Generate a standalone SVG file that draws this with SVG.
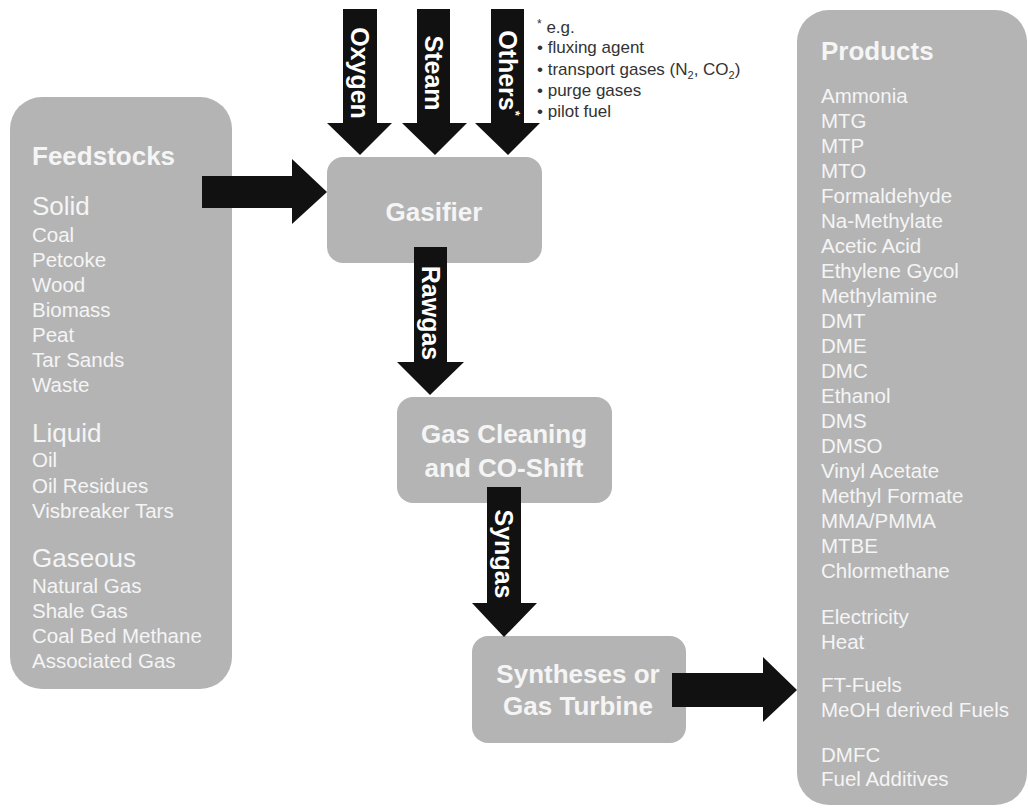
<svg xmlns="http://www.w3.org/2000/svg" width="1028" height="809" viewBox="0 0 1028 809">
<style>
.box{fill:#b4b4b4}
.arr{fill:#111111}
.title{font-family:"Liberation Sans",Arial,sans-serif;font-weight:bold;font-size:26px;fill:#f5f5f5}
.sub{font-family:"Liberation Sans",Arial,sans-serif;font-size:26px;fill:#f5f5f5}
.item{font-family:"Liberation Sans",Arial,sans-serif;font-size:20.5px;fill:#f5f5f5}
.lbl{font-family:"Liberation Sans",Arial,sans-serif;font-weight:bold;font-size:25px;fill:#ffffff}
.note{font-family:"Liberation Sans",Arial,sans-serif;font-size:17px;fill:#333333}
</style>
<rect width="1028" height="809" fill="#ffffff"/>

<g id="feedstocks">
<rect class="box" x="10" y="97" width="222" height="592" rx="32" ry="32"/>
<text class="title" x="32" y="165">Feedstocks</text>
<text class="sub" x="32" y="215">Solid</text>
<g class="item">
<text x="32" y="242">Coal</text>
<text x="32" y="267">Petcoke</text>
<text x="32" y="292">Wood</text>
<text x="32" y="317">Biomass</text>
<text x="32" y="342">Peat</text>
<text x="32" y="367">Tar Sands</text>
<text x="32" y="392">Waste</text>
</g>
<text class="sub" x="32" y="442">Liquid</text>
<g class="item">
<text x="32" y="467">Oil</text>
<text x="32" y="493">Oil Residues</text>
<text x="32" y="518">Visbreaker Tars</text>
</g>
<text class="sub" x="32" y="567">Gaseous</text>
<g class="item">
<text x="32" y="593">Natural Gas</text>
<text x="32" y="618">Shale Gas</text>
<text x="32" y="643">Coal Bed Methane</text>
<text x="32" y="668">Associated Gas</text>
</g>
</g>

<g id="products">
<rect class="box" x="797" y="10" width="230" height="795" rx="32" ry="32"/>
<text class="title" x="821" y="60">Products</text>
<g class="item">
<text x="821" y="103">Ammonia</text>
<text x="821" y="128">MTG</text>
<text x="821" y="153">MTP</text>
<text x="821" y="178">MTO</text>
<text x="821" y="203">Formaldehyde</text>
<text x="821" y="228">Na-Methylate</text>
<text x="821" y="253">Acetic Acid</text>
<text x="821" y="278">Ethylene Gycol</text>
<text x="821" y="303">Methylamine</text>
<text x="821" y="328">DMT</text>
<text x="821" y="353">DME</text>
<text x="821" y="378">DMC</text>
<text x="821" y="403">Ethanol</text>
<text x="821" y="428">DMS</text>
<text x="821" y="453">DMSO</text>
<text x="821" y="478">Vinyl Acetate</text>
<text x="821" y="503">Methyl Formate</text>
<text x="821" y="528">MMA/PMMA</text>
<text x="821" y="553">MTBE</text>
<text x="821" y="578">Chlormethane</text>
<text x="821" y="624">Electricity</text>
<text x="821" y="649">Heat</text>
<text x="821" y="692">FT-Fuels</text>
<text x="821" y="717">MeOH derived Fuels</text>
<text x="821" y="762">DMFC</text>
<text x="821" y="786">Fuel Additives</text>
</g>
</g>

<g id="gasifier">
<rect class="box" x="327" y="157" width="215" height="106" rx="16" ry="16"/>
<text class="title" x="434" y="221" text-anchor="middle">Gasifier</text>
</g>

<g id="gascleaning">
<rect class="box" x="397" y="397" width="215" height="106" rx="16" ry="16"/>
<text class="title" x="504" y="443" text-anchor="middle">Gas Cleaning</text>
<text class="title" x="504" y="477" text-anchor="middle">and CO-Shift</text>
</g>

<g id="syntheses">
<rect class="box" x="472" y="636" width="214" height="107" rx="16" ry="16"/>
<text class="title" x="578" y="683" text-anchor="middle">Syntheses or</text>
<text class="title" x="578" y="715" text-anchor="middle">Gas Turbine</text>
</g>

<g id="note">
<text class="note" x="537" y="33"><tspan font-size="12" dy="-5">*</tspan><tspan dy="5"> e.g.</tspan></text>
<text class="note" x="537" y="53">• fluxing agent</text>
<text class="note" x="537" y="75">• transport gases (N<tspan font-size="11" dy="4">2</tspan><tspan dy="-4">, CO</tspan><tspan font-size="11" dy="4">2</tspan><tspan dy="-4">)</tspan></text>
<text class="note" x="537" y="96">• purge gases</text>
<text class="note" x="537" y="117">• pilot fuel</text>
</g>

<g id="connectors">
<polygon class="arr" points="202,176 292,176 292,159 327,192 292,224 292,208 202,208"/>
<polygon class="arr" points="343,9 377,9 377,123 392,123 360,155 327,123 343,123"/>
<polygon class="arr" points="417,9 450,9 450,123 467,123 435,155 402,123 417,123"/>
<polygon class="arr" points="491,9 524,9 524,123 540,123 508,155 475,123 491,123"/>
<polygon class="arr" points="414,247 447,247 447,362 464,362 430,395 397,362 414,362"/>
<polygon class="arr" points="487,487 521,487 521,603 537,603 504,637 472,603 487,603"/>
<polygon class="arr" points="672,673 763,673 763,657 797,690 763,722 763,707 672,707"/>
<text class="lbl" transform="translate(360,73) rotate(90)" text-anchor="middle" dominant-baseline="central">Oxygen</text>
<text class="lbl" transform="translate(434,73) rotate(90)" text-anchor="middle" dominant-baseline="central">Steam</text>
<text class="lbl" transform="translate(508,73) rotate(90)" text-anchor="middle" dominant-baseline="central">Others<tspan font-size="13" dy="-8">*</tspan></text>
<text class="lbl" transform="translate(431,313) rotate(90)" text-anchor="middle" dominant-baseline="central">Rawgas</text>
<text class="lbl" transform="translate(504,554) rotate(90)" text-anchor="middle" dominant-baseline="central">Syngas</text>
</g>
</svg>
